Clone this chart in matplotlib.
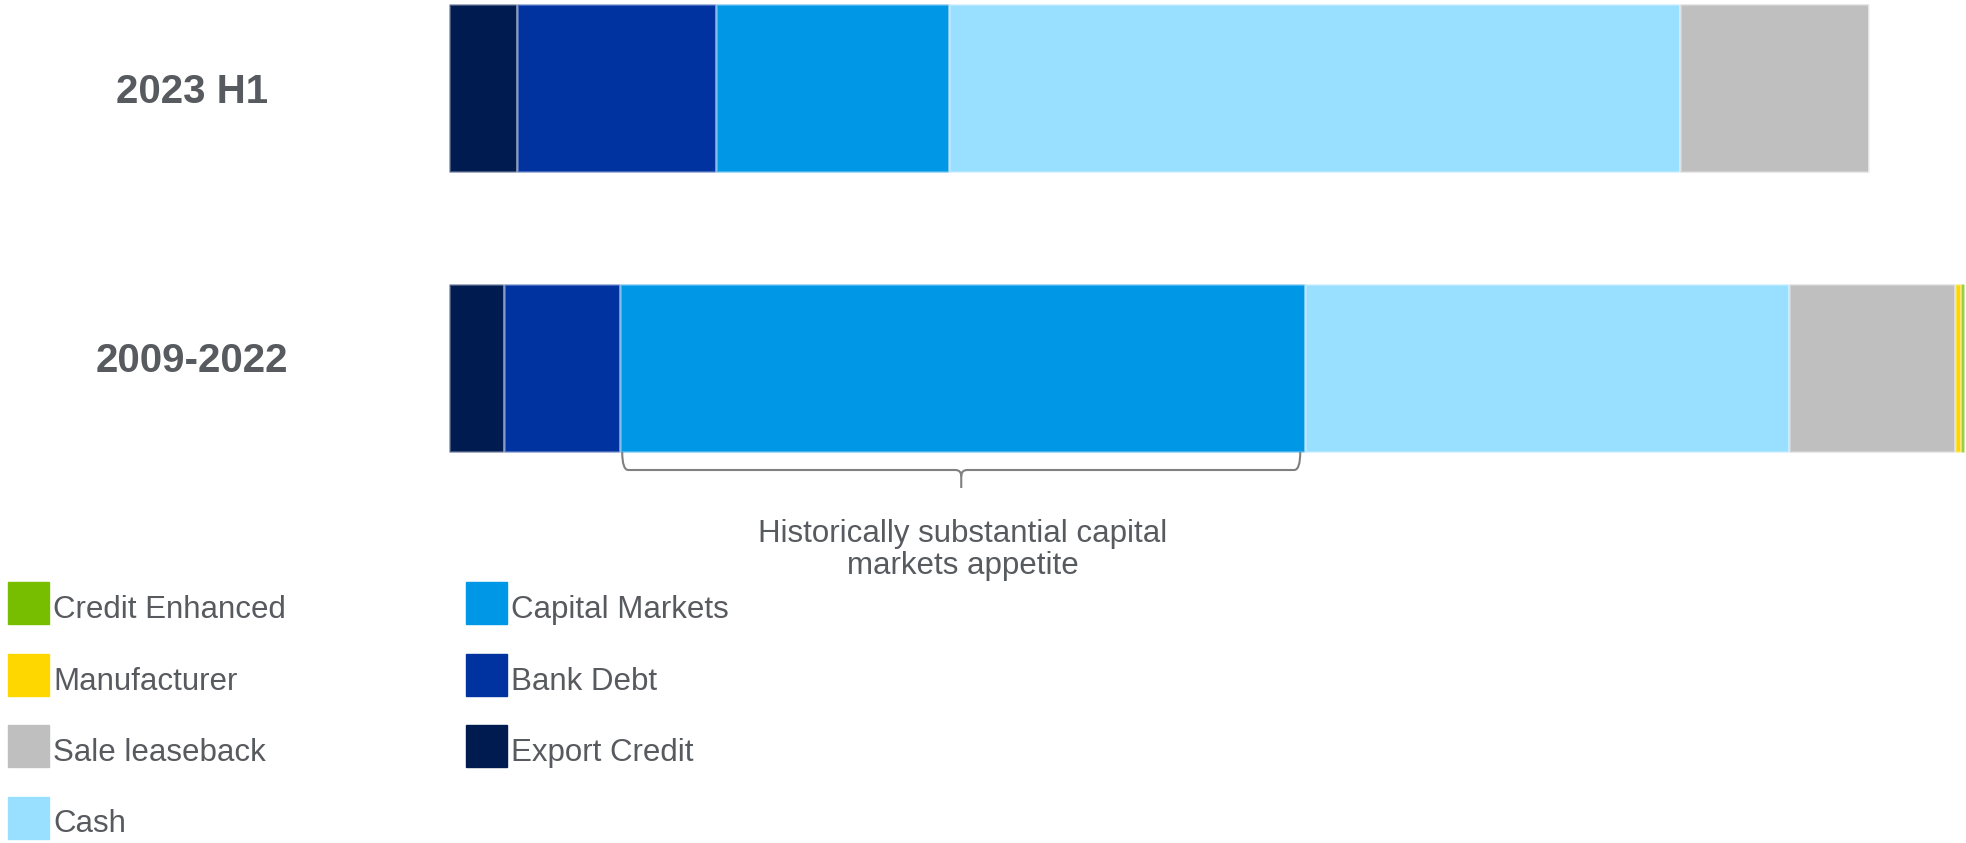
import numpy as np
import matplotlib
matplotlib.use('Agg')
import matplotlib.pyplot as plt
from matplotlib.patches import Rectangle, PathPatch
from matplotlib.path import Path

plt.rcParams['font.family'] = ['Liberation Sans', 'DejaVu Sans']

# 数据：两个时间段的融资结构
periods = ['2023 H1', '2009-2022']
series = ['Export Credit', 'Bank Debt', 'Capital Markets', 'Cash',
          'Sale leaseback', 'Manufacturer', 'Credit Enhanced']
export_credit = [4.5, 3.6]
bank_debt = [13.1, 7.7]
capital_markets = [15.4, 45.2]
cash = [48.2, 31.9]
sale_leaseback = [12.5, 11.0]
manufacturer = [0.0, 0.35]
credit_enhanced = [0.0, 0.2]
values = [export_credit, bank_debt, capital_markets, cash,
          sale_leaseback, manufacturer, credit_enhanced]
colors = ['#001B50', '#0033A0', '#0097E6', '#99DFFF',
          '#BFBFBF', '#FFD700', '#78BE00']
note = 'Historically substantial capital\nmarkets appetite'

TXT = '#575A5E'
W, H = 1966, 843
fig = plt.figure(figsize=(W / 100, H / 100), dpi=100)

# 坐标轴覆盖整幅高度，y 单位 = 类别序号
left_px, right_px = 449, 1964.5
ax = fig.add_axes([left_px / W, 0, (right_px - left_px) / W, 1])
ax.set_xlim(0, 100)
ax.set_ylim(1 + (H - 368) / 280, -88 / 280)
ax.axis('off')

ypos = np.arange(len(periods))
cum = np.zeros(len(periods))
for name, vals, c in zip(series, values, colors):
    ax.barh(ypos, vals, left=cum, height=0.6, color=c,
            edgecolor=(1, 1, 1, 0.3), linewidth=2.0, label=name)
    cum += np.array(vals)

# 类别标签
label_y = [92, 361]
for p, py in zip(periods, label_y):
    fig.text(192 / W, 1 - py / H, p, ha='center', va='center',
             fontsize=29, fontweight='bold', color=TXT)

# 资本市场下方的大括号
i = 1
x0 = export_credit[i] + bank_debt[i] + 0.13
x1 = export_credit[i] + bank_debt[i] + capital_markets[i] - 0.33
xc = (x0 + x1) / 2
y_top = ypos[i] + 0.3
y_line = ypos[i] + (470 - 368) / 280
y_tip = ypos[i] + (488 - 368) / 280
rx, ry = 0.4, 0.022
verts = [(x0, y_top), (x0, y_line), (x0 + rx, y_line),
         (xc - rx, y_line), (xc, y_line), (xc, y_line + ry),
         (xc, y_tip),
         (xc, y_line + ry), (xc, y_line), (xc + rx, y_line),
         (x1 - rx, y_line), (x1, y_line), (x1, y_top)]
codes = [Path.MOVETO, Path.CURVE3, Path.CURVE3,
         Path.LINETO, Path.CURVE3, Path.CURVE3,
         Path.LINETO,
         Path.MOVETO, Path.CURVE3, Path.CURVE3,
         Path.LINETO, Path.CURVE3, Path.CURVE3]
ax.add_patch(PathPatch(Path(verts, codes), fill=False,
                       edgecolor='#808080', linewidth=1.5))

ax.text(export_credit[i] + bank_debt[i] + capital_markets[i] / 2,
        ypos[i] + (550 - 368) / 280, note, ha='center', va='center',
        fontsize=22.5, color=TXT, linespacing=1.12)

# 图例（手动排列，两列）
legend_order = list(range(len(series)))[::-1]
col_x = [8, 466]
row_top0, row_step = 582, 71.5
for k, idx in enumerate(legend_order):
    col, row = (0, k) if k < 4 else (1, k - 4)
    x, y = col_x[col], row_top0 + row * row_step
    fig.add_artist(Rectangle((x / W, 1 - (y + 42) / H), 41 / W, 42 / H,
                             transform=fig.transFigure, color=colors[idx]))
    fig.text((x + 45) / W, 1 - (y + 36) / H, series[idx], ha='left',
             va='baseline', fontsize=22.5, color=TXT)

plt.savefig('out.png', dpi=100)
